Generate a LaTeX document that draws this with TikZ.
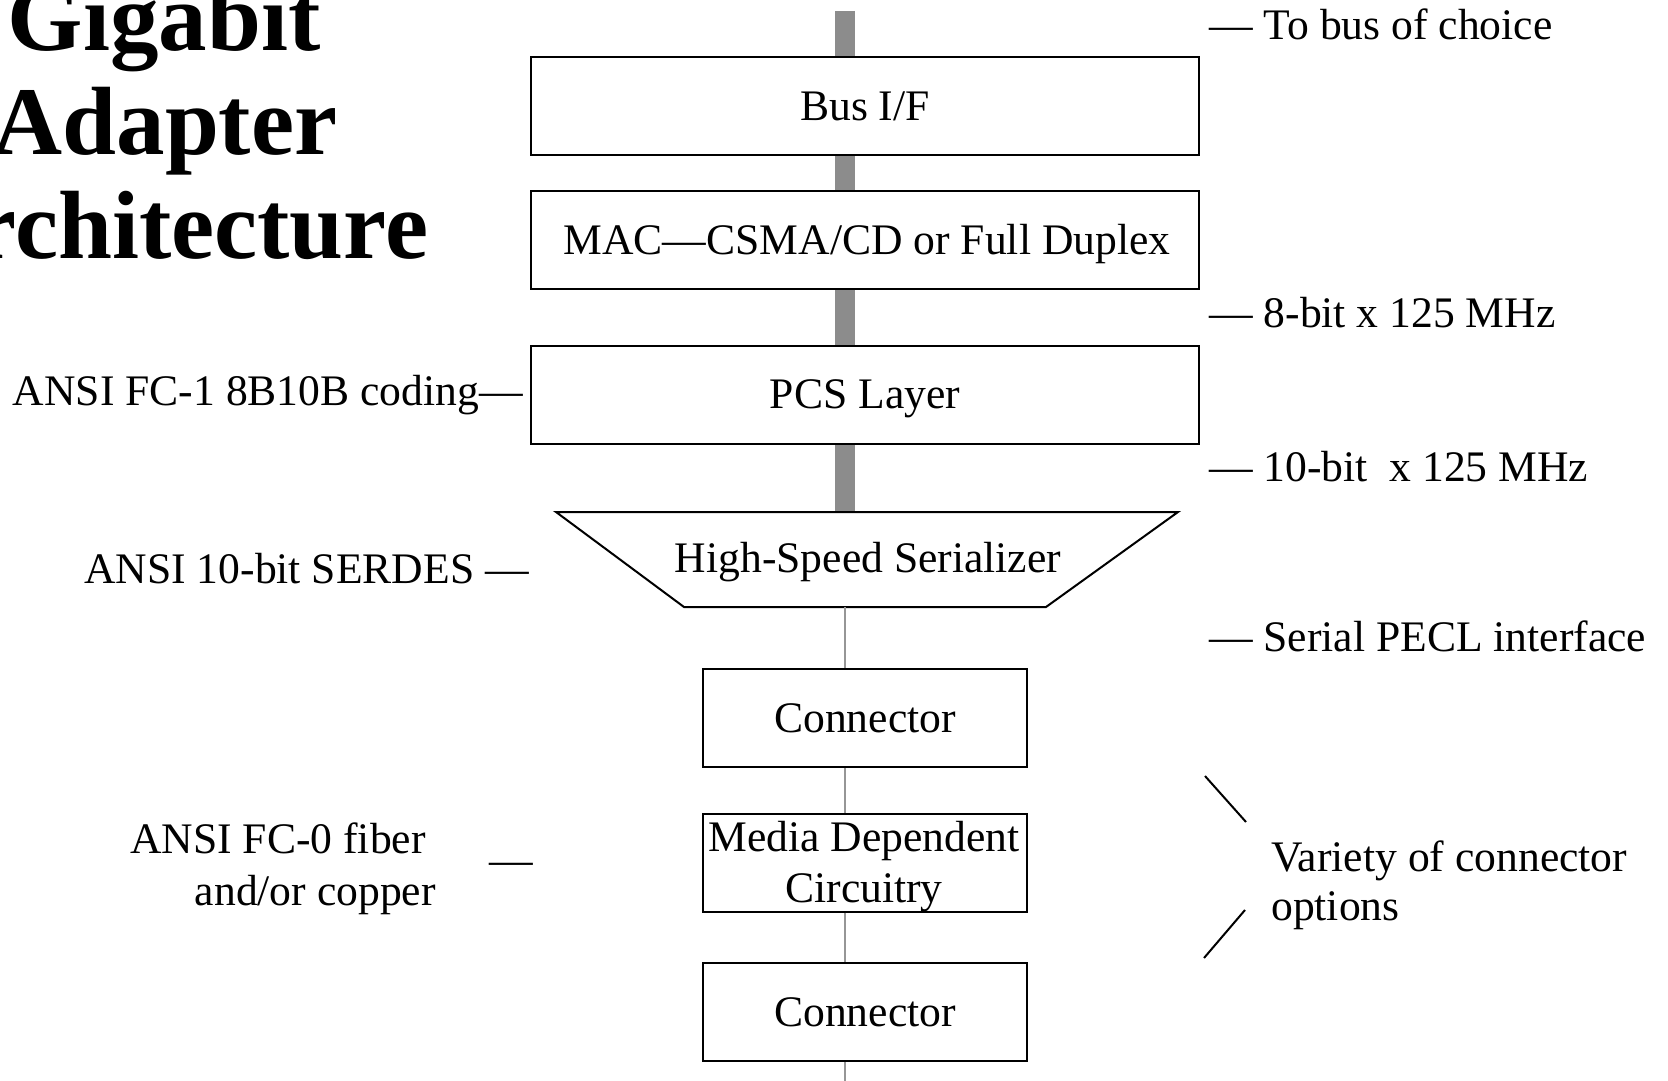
\documentclass[tikz,border=0pt]{standalone}
\usepackage{fontspec}
\setmainfont{Liberation Serif}
\usetikzlibrary{backgrounds}
\definecolor{busgray}{RGB}{140,140,140}
\definecolor{wiregray}{RGB}{150,150,150}
\begin{document}
\begin{tikzpicture}[x=1pt,y=-1pt,
  box/.style={draw=black, line width=2pt, fill=white, inner sep=0pt, minimum height=98pt, font=\fontsize{43.6}{51}\selectfont, align=center},
  onebox/.style={box, text height=28pt, text depth=0pt},
  lbl/.style={inner sep=0pt, font=\fontsize{43.6}{51}\selectfont},
  ttl/.style={inner sep=0pt, font=\fontsize{97}{103}\selectfont\bfseries},
  bus/.style={line width=20pt, draw=busgray},
  wire/.style={line width=1.5pt, draw=wiregray},
  tick/.style={line width=2pt, draw=black}]
\useasboundingbox (0,0) rectangle (1668,1081);
% title
\node[ttl, anchor=base] (t1) at (164,51) {Gigabit};
\node[ttl, anchor=base] (t2) at (165,154) {Adapter};
\node[ttl, anchor=base] (t3) at (166,258) {Architecture};
% stack
\node[onebox, minimum width=668pt] (busif) at (865,106) {Bus I/F};
\node[onebox, minimum width=668pt] (mac) at (865,240) {\hspace{4pt}MAC—CSMA/CD or Full Duplex};
\node[onebox, minimum width=668pt] (pcs) at (865,394.5) {PCS Layer};
\coordinate (stl) at (556,512);
\coordinate (str) at (1178,512);
\coordinate (sbr) at (1046,607);
\coordinate (sbl) at (684,607);
\draw[line width=2pt, fill=white, line join=miter] (stl) -- (str) -- (sbr) -- (sbl) -- cycle;
\node[lbl, text height=28pt, text depth=0pt] (ser) at (868,558) {High-Speed Serializer};
\node[onebox, minimum width=324pt] (c1) at (865,718) {Connector};
\node[box, minimum width=324pt] (media) at (865,862.5) {};
\node[lbl, align=center] (mediatext) at (864,866.5) {Media Dependent\\Circuitry};
\node[onebox, minimum width=324pt] (c2) at (865,1012) {Connector};
% bus and wires
\coordinate (bustop) at (845,11);
\coordinate (busbot) at (845,1081);
\begin{pgfonlayer}{background}
\draw[bus] (bustop) -- (bustop |- stl);
\end{pgfonlayer}
\draw[wire] (bustop |- sbl) -- (bustop |- c1.north);
\draw[wire] (bustop |- c1.south) -- (bustop |- media.north);
\draw[wire] (bustop |- media.south) -- (bustop |- c2.north);
\draw[wire] (bustop |- c2.south) -- (busbot);
% right labels
\node[lbl, anchor=base west] (r1) at (1209,40) {— To bus of choice};
\node[lbl, anchor=base west] (r2) at (1209,327) {— 8-bit x 125 MHz};
\node[lbl, anchor=base west] (r3) at (1209,481) {— 10-bit\ \ x 125 MHz};
\node[lbl, anchor=base west] (r4) at (1209,651) {— Serial PECL interface};
\node[lbl, anchor=base west] (r5) at (1271,871) {Variety of connector};
\node[lbl, anchor=base west] (r6) at (1271,920) {options};
\coordinate (v1a) at (1205,776);
\coordinate (v1b) at (1246,822);
\coordinate (v2a) at (1245,910);
\coordinate (v2b) at (1204,958);
\draw[tick] (v1a) -- (v1b);
\draw[tick] (v2a) -- (v2b);
% left labels
\node[lbl, anchor=base east] (l1) at (523,405) {ANSI FC-1 8B10B coding—};
\node[lbl, anchor=base east] (l2) at (529,583) {ANSI 10-bit SERDES —};
\node[lbl, anchor=base east] (l3a) at (426,853) {ANSI FC-0 fiber};
\node[lbl, anchor=base east] (l3b) at (436,905) {and/or copper};
\node[lbl, anchor=base west] (l3d) at (489,874) {—};
\end{tikzpicture}
\end{document}
